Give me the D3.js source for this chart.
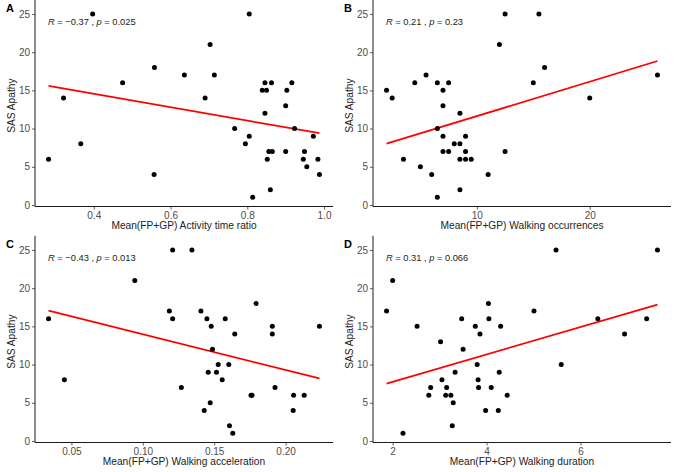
<!DOCTYPE html>
<html><head><meta charset="utf-8">
<script src="https://cdn.jsdelivr.net/npm/d3@7"></script>
<style>
html,body{margin:0;padding:0;background:#fff;}
svg{display:block;font-family:"Liberation Sans",Arial,Helvetica,sans-serif;}
</style></head>
<body>
<svg id="chart" width="676" height="472"></svg>
<script>
// ---------- data ----------
const panelLabels = ["A", "B", "C", "D"];
const xTitles = [
  "Mean(FP+GP) Activity time ratio",
  "Mean(FP+GP) Walking occurrences",
  "Mean(FP+GP) Walking acceleration",
  "Mean(FP+GP) Walking duration"
];
const statR = ["\u22120.37", "0.21", "\u22120.43", "0.31"];
const statP = ["0.025", "0.23", "0.013", "0.066"];

const xA = [0.282,0.321,0.366,0.397,0.475,0.557,0.558,0.636,0.690,0.703,0.714,0.767,0.795,0.805,0.805,0.814,
            0.839,0.846,0.846,0.850,0.852,0.856,0.860,0.863,0.865,0.900,0.900,0.903,0.916,0.923,0.946,0.949,
            0.955,0.972,0.984,0.988];
const yA = [6,14,8,25,16,4,18,17,14,21,17,10,8,9,25,1,15,16,12,15,6,7,2,16,7,13,7,15,16,10,6,7,5,9,6,4];

const xB = [2,2.5,3.5,4.5,5,5.5,6,6.5,6.5,6.5,7,7,7,7,7.5,7.5,8,8.5,8.5,8.5,8.5,9,9,9,9.5,11,12,12.5,12.5,15,15.5,16,20,26];
const yB = [15,14,6,16,5,17,4,16,10,1,15,13,9,7,16,7,8,12,8,6,2,9,7,6,6,4,21,25,7,16,25,18,14,17];

const xC = [0.034,0.0451,0.0944,0.1186,0.1209,0.1209,0.127,0.1344,0.1407,0.143,0.1449,0.1458,0.1472,0.1479,0.1488,
            0.1516,0.1528,0.1556,0.1577,0.1602,0.1607,0.163,0.1644,0.1758,0.1765,0.1793,0.1907,0.1907,0.1926,
            0.2053,0.2056,0.213,0.2237];
const yC = [16,8,21,17,16,25,7,25,17,4,16,9,5,15,12,9,10,8,16,10,2,1,14,6,6,18,15,14,7,4,6,6,15];

const xD = [1.87,2.0,2.22,2.52,2.77,2.81,3.02,3.05,3.13,3.15,3.24,3.27,3.29,3.33,3.47,3.50,3.76,3.80,3.82,3.83,
            3.86,3.98,4.04,4.05,4.10,4.25,4.27,4.30,4.44,5.01,5.48,5.59,6.37,6.94,7.41,7.64];
const yD = [17,21,1,15,6,7,13,8,6,7,6,2,5,9,16,12,15,10,8,7,14,4,18,16,7,4,9,15,6,17,25,10,16,14,16,25];

const xTicks = [[0.4,0.6,0.8,1.0],[10,20],[0.05,0.10,0.15,0.20],[2,4,6]];
const xTickLabels = [["0.4","0.6","0.8","1.0"],["10","20"],["0.05","0.10","0.15","0.20"],["2","4","6"]];
const yTicks = [0,5,10,15,20,25];
const yTitle = "SAS Apathy";

const xs = [xA, xB, xC, xD];
const ys = [yA, yB, yC, yD];

// ---------- drawing ----------
const svg = d3.select("#chart");
const PW = 338, PH = 236;
const m = {left: 35, right: 5, top: 4.8, bottom: 29.5};

function expand(ext) {
  const d = (ext[1] - ext[0]) * 0.05;
  return [ext[0] - d, ext[1] + d];
}

function fit(x, y) {
  const mx = d3.mean(x), my = d3.mean(y);
  let sxy = 0, sxx = 0;
  x.forEach((v, i) => { sxy += (v - mx) * (y[i] - my); sxx += (v - mx) * (v - mx); });
  const b = sxy / sxx;
  return {a: my - b * mx, b};
}

panelLabels.forEach((lab, i) => {
  const ox = (i % 2) * PW, oy = Math.floor(i / 2) * PH;
  const g = svg.append("g").attr("transform", `translate(${ox},${oy})`);
  const x = d3.scaleLinear().domain(expand(d3.extent(xs[i]))).range([m.left, PW - m.right]);
  const y = d3.scaleLinear().domain(expand(d3.extent(ys[i]))).range([PH - m.bottom, m.top]);

  // axes
  const xAxis = d3.axisBottom(x).tickValues(xTicks[i]).tickSize(3).tickPadding(2)
    .tickFormat((d, k) => xTickLabels[i][k]);
  const yAxis = d3.axisLeft(y).tickValues(yTicks).tickSize(3).tickPadding(2);
  const gx = g.append("g").attr("transform", `translate(0,${PH - m.bottom})`).call(xAxis);
  const gy = g.append("g").attr("transform", `translate(${m.left},0)`).call(yAxis);
  [gx, gy].forEach(a => {
    a.select(".domain").attr("stroke", "#000").attr("stroke-width", 0.9)
      .attr("d", a === gx ? `M${m.left},0H${PW - m.right}` : `M0,${m.top - 5}V${PH - m.bottom}`);
    a.selectAll(".tick line").attr("stroke", "#333").attr("stroke-width", 0.8);
    a.selectAll(".tick text").attr("fill", "#4d4d4d").style("font-size", "10px");
  });

  // regression line over data range
  const f = fit(xs[i], ys[i]);
  const ext = d3.extent(xs[i]);
  const lineData = ext.map(v => [v, f.a + f.b * v]);
  g.append("path").datum(lineData)
    .attr("d", d3.line().x(d => x(d[0])).y(d => y(d[1])))
    .attr("stroke", "#ff0000").attr("stroke-width", 1.8).attr("fill", "none");

  // points
  g.append("g").selectAll("circle").data(xs[i].map((v, k) => [v, ys[i][k]])).join("circle")
    .attr("cx", d => x(d[0])).attr("cy", d => y(d[1])).attr("r", 2.5).attr("fill", "#000");

  // titles
  g.append("text").attr("x", (m.left + PW - m.right) / 2).attr("y", 229)
    .attr("text-anchor", "middle").style("font-size", "10.2px").attr("fill", "#222").text(xTitles[i]);
  g.append("text").attr("transform", `translate(14.5,${(m.top + PH - m.bottom) / 2}) rotate(-90)`)
    .attr("text-anchor", "middle").style("font-size", "10.2px").attr("fill", "#222").text(yTitle);

  // panel label
  g.append("text").attr("x", 6).attr("y", 12).style("font-size", "11px").style("font-weight", "bold")
    .text(lab);

  // stats
  const st = g.append("text").attr("x", 48).attr("y", 24.5).style("font-size", "9.3px").attr("fill", "#222");
  st.append("tspan").style("font-style", "italic").text("R");
  st.append("tspan").text(` = ${statR[i]} , `);
  st.append("tspan").style("font-style", "italic").text("p");
  st.append("tspan").text(` = ${statP[i]}`);
});
</script>
</body></html>
